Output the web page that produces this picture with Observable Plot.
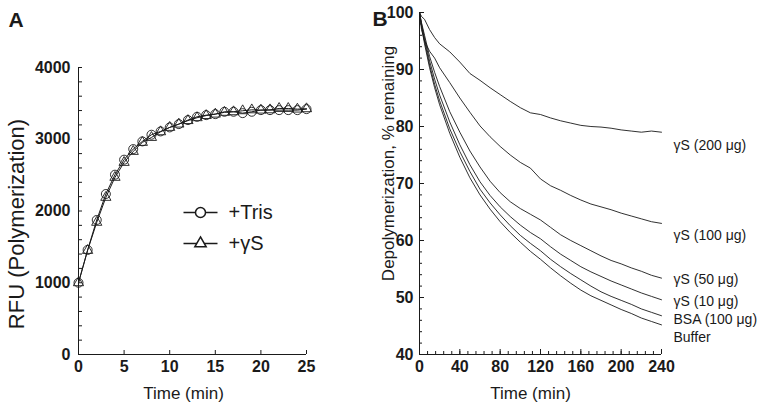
<!DOCTYPE html>
<html><head><meta charset="utf-8">
<script src="https://cdn.jsdelivr.net/npm/d3@7"></script>
<script src="https://cdn.jsdelivr.net/npm/@observablehq/plot@0.6"></script>
<style>
body{margin:0;background:#fff;}
#wrap{position:relative;width:762px;height:410px;background:#fff;}
.panel{position:absolute;top:0;}
</style></head><body><div id="wrap"></div>
<script>
// ---------- Panel A data ----------
const timeA = [0,1,2,3,4,5,6,7,8,9,10,11,12,13,14,15,16,17,18,19,20,21,22,23,24,25];
const trisRFU = [1000,1457,1875,2237,2506,2715,2863,2970,3063,3109,3165,3211,3267,3313,3336,3350,3383,3383,3364,3383,3406,3406,3406,3406,3406,3420];
const gammaRFU = [1000,1450,1842,2190,2469,2677,2830,2956,3025,3104,3165,3211,3260,3300,3330,3350,3375,3383,3397,3410,3406,3410,3429,3429,3420,3425];
const xTicksA = [0,5,10,15,20,25];
const yTicksA = [0,1000,2000,3000,4000];
const legendA = ["+Tris","+γS"];

// ---------- Panel B data ----------
const timeB = [0,2,5,10,15,20,30,40,50,60,70,80,90,100,110,120,130,140,150,160,170,180,190,200,210,220,230,240];
const gS200 = [100,99.3,98.8,97.0,95.6,94.5,93.1,91.3,89.3,88.1,86.8,85.6,84.4,83.3,82.4,82.1,81.5,81.0,80.6,80.2,80.0,79.9,79.7,79.4,79.2,79.0,79.2,79.0];
const gS100 = [100,97.0,95.0,93.2,92.0,90.3,87.7,85.0,82.5,80.1,78.2,76.5,75.0,73.7,72.7,70.8,69.6,68.8,67.9,67.1,66.4,65.9,65.4,64.8,64.3,63.8,63.3,63.0];
const gS50  = [100,98.2,96.0,92.3,89.5,87.0,82.6,79.0,75.7,72.9,70.4,68.4,66.8,65.6,64.6,63.6,62.3,61.0,60.0,59.1,58.2,57.3,56.5,55.9,55.2,54.6,53.9,53.4];
const gS10  = [100,98.0,95.5,91.5,88.3,85.5,80.8,76.8,73.3,70.3,67.9,65.9,64.2,62.7,61.4,60.3,58.9,57.6,56.5,55.4,54.5,53.7,52.9,52.2,51.5,50.8,50.2,49.6];
const bsa   = [100,97.7,95.0,90.8,87.4,84.5,79.6,75.6,72.1,69.0,66.6,64.5,62.6,60.9,59.5,58.2,56.7,55.4,54.2,53.1,52.0,51.0,50.2,49.5,48.8,48.0,47.4,46.8];
const buffer= [100,97.5,94.5,90.3,86.8,83.8,78.8,74.6,71.0,68.0,65.5,63.3,61.4,59.7,58.1,56.7,55.2,53.8,52.5,51.3,50.3,49.5,48.7,47.9,47.2,46.4,45.8,45.2];
const seriesNamesB = ["γS (200 μg)","γS (100 μg)","γS (50 μg)","γS (10 μg)","BSA (100 μg)","Buffer"];
const seriesValuesB = [gS200,gS100,gS50,gS10,bsa,buffer];
const xTicksB = [0,40,80,120,160,200,240];
const yTicksB = [40,50,60,70,80,90,100];

// ---------- layout / style config ----------
const FONT = "'Liberation Sans', Arial, Helvetica, sans-serif";
const INK = "#1a1a1a";
const H = 410;
const labelDyB = [13, 12, 1, 2, 4, 13];

const dataA = [];
timeA.forEach((t,i) => {
  dataA.push({t, v: trisRFU[i], s: "+Tris"});
  dataA.push({t, v: gammaRFU[i], s: "+γS"});
});
const dataB = [];
seriesNamesB.forEach((name,k) => timeB.forEach((t,i) => dataB.push({t, v: seriesValuesB[k][i], s: name})));

const hSeg = {draw(ctx){ ctx.moveTo(-17,0); ctx.lineTo(17,0); }};

// ---------- Panel A ----------
const mA = {top:67, right:60, bottom:56, left:78};
const WA = 366;
const fwA = WA - mA.left - mA.right, fhA = H - mA.top - mA.bottom;
const plotA = Plot.plot({
  width: WA, height: H,
  marginTop: mA.top, marginRight: mA.right, marginBottom: mA.bottom, marginLeft: mA.left,
  x: {domain: [0,25]},
  y: {domain: [0,4000]},
  style: {fontFamily: FONT, fontSize: "16px", fontWeight: "normal", color: INK, background: "transparent", overflow: "visible"},
  marks: [
    Plot.axisX({ticks: xTicksA, tickSize: 0, tickPadding: 6, label: null, fontSize: 16, fontWeight: "bold", tickFormat: d => String(d)}),
    Plot.axisY({ticks: yTicksA, tickSize: 0, tickPadding: 8, label: null, fontSize: 16, fontWeight: "bold", tickFormat: d => String(d)}),
    Plot.tickX(xTicksA, {x: d => d, insetTop: fhA - 4, stroke: INK}),
    Plot.tickY(d3.range(0, 4001, 200), {y: d => d, insetRight: fwA - 4, stroke: INK}),
    Plot.ruleX([0], {stroke: INK}),
    Plot.ruleY([0], {stroke: INK}),
    Plot.line(dataA, {x: "t", y: "v", z: "s", stroke: INK, strokeWidth: 1}),
    Plot.dot(dataA.filter(d => d.s === "+Tris"), {x: "t", y: "v", symbol: "circle", r: 4.5, stroke: INK, fill: "none", strokeWidth: 0.9}),
    Plot.dot(dataA.filter(d => d.s === "+γS"), {x: "t", y: "v", symbol: "triangle", r: 3.8, stroke: INK, fill: "none", strokeWidth: 0.9}),
    // legend
    ...legendA.map((lab, i) => [
      Plot.dot([lab], {frameAnchor: "top-left", dx: 122, dy: 145 + i*31, symbol: hSeg, r: 4, stroke: INK, fill: "none"}),
      Plot.dot([lab], {frameAnchor: "top-left", dx: 122, dy: 145 + i*31, symbol: i === 0 ? "circle" : "triangle", r: i === 0 ? 5 : 4.2, stroke: INK, fill: "white"}),
      Plot.text([lab], {text: d => d, frameAnchor: "top-left", dx: 150, dy: 145 + i*31, textAnchor: "start", lineAnchor: "middle", fontSize: 20, fontWeight: "normal", fill: INK})
    ]).flat(),
    // titles
    Plot.text(["Time (min)"], {text: d => d, frameAnchor: "bottom", textAnchor: "middle", dx: -9, dy: 44, lineAnchor: "bottom", fontSize: 17, fontWeight: "normal", fill: INK}),
    Plot.text(["RFU (Polymerization)"], {text: d => d, frameAnchor: "left", textAnchor: "middle", rotate: -90, dx: -62, dy: 13, lineAnchor: "middle", fontSize: 22, fontWeight: "normal", fill: INK}),
    Plot.text(["A"], {text: d => d, frameAnchor: "top-left", dx: -70, dy: -41, textAnchor: "start", lineAnchor: "bottom", fontSize: 21, fontWeight: "bold", fill: INK})
  ]
});

// ---------- Panel B ----------
const leftB = 366;
const mB = {top:12, right:101, bottom:56, left:53};
const WB = 762 - leftB;
const fwB = WB - mB.left - mB.right, fhB = H - mB.top - mB.bottom;
const plotB = Plot.plot({
  width: WB, height: H,
  marginTop: mB.top, marginRight: mB.right, marginBottom: mB.bottom, marginLeft: mB.left,
  x: {domain: [0,240]},
  y: {domain: [40,100]},
  style: {fontFamily: FONT, fontSize: "16px", fontWeight: "normal", color: INK, background: "transparent", overflow: "visible"},
  marks: [
    Plot.axisX({ticks: xTicksB, tickSize: 0, tickPadding: 6, label: null, fontSize: 16, fontWeight: "bold", tickFormat: d => String(d)}),
    Plot.axisY({ticks: yTicksB, tickSize: 0, tickPadding: 6, label: null, fontSize: 16, fontWeight: "bold", tickFormat: d => String(d)}),
    Plot.tickX(d3.range(0, 241, 8), {x: d => d, insetTop: fhB - 3, stroke: INK}),
    Plot.tickX(xTicksB, {x: d => d, insetTop: fhB - 5, stroke: INK}),
    Plot.tickY(d3.range(40, 101, 2), {y: d => d, insetRight: fwB - 3, stroke: INK}),
    Plot.tickY(yTicksB, {y: d => d, insetRight: fwB - 5, stroke: INK}),
    Plot.ruleX([0], {stroke: INK}),
    Plot.ruleY([40], {stroke: INK}),
    Plot.line(dataB, {x: "t", y: "v", z: "s", stroke: INK, strokeWidth: 0.9}),
    ...seriesNamesB.map((name, k) =>
      Plot.text([name], {text: d => d, x: () => 240, y: () => seriesValuesB[k][seriesValuesB[k].length - 1], dx: 12, dy: labelDyB[k], textAnchor: "start", lineAnchor: "middle", fontSize: 14, fontWeight: "normal", fill: INK})
    ),
    Plot.text(["Time (min)"], {text: d => d, frameAnchor: "bottom", textAnchor: "middle", dx: -10, dy: 44, lineAnchor: "bottom", fontSize: 17, fontWeight: "normal", fill: INK}),
    Plot.text(["Depolymerization, % remaining"], {text: d => d, frameAnchor: "left", textAnchor: "middle", rotate: -90, dx: -31, dy: -20, lineAnchor: "middle", fontSize: 17, fontWeight: "normal", fill: INK}),
    Plot.text(["B"], {text: d => d, frameAnchor: "top-left", dx: -47, dy: 13, textAnchor: "start", lineAnchor: "bottom", fontSize: 21, fontWeight: "bold", fill: INK})
  ]
});

const wrap = document.getElementById("wrap");
plotA.classList.add("panel"); plotA.style.left = "0px";
plotB.classList.add("panel"); plotB.style.left = leftB + "px";
wrap.appendChild(plotA);
wrap.appendChild(plotB);
</script></body></html>
